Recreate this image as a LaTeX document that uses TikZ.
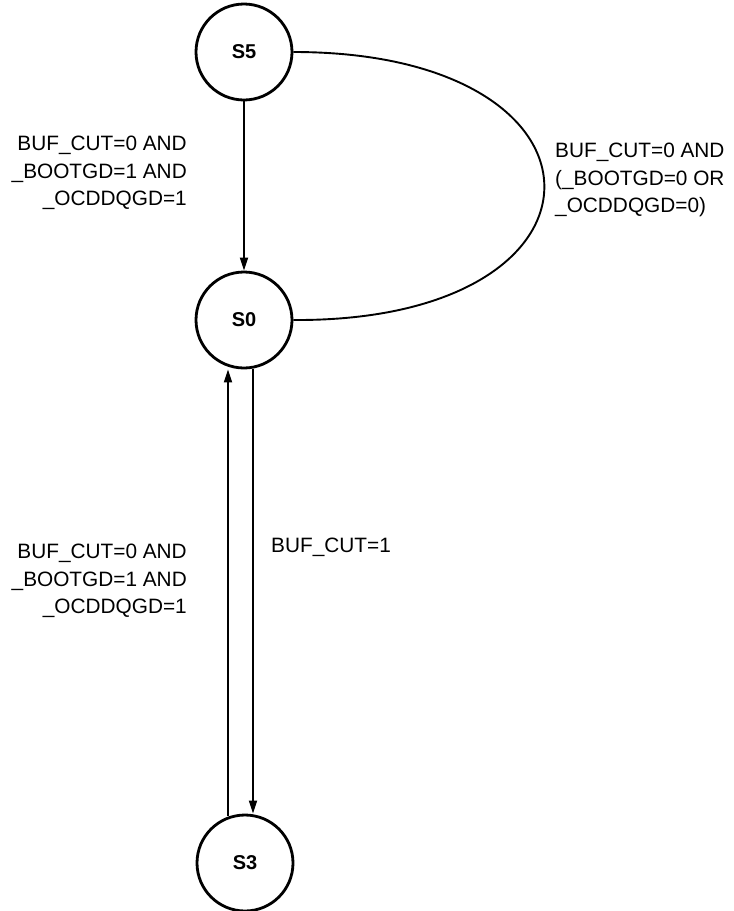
\documentclass[tikz,border=0pt]{standalone}
\usepackage{fontspec}
\setmainfont{Liberation Sans}
\usetikzlibrary{arrows.meta}
\begin{document}
\begin{tikzpicture}[x=1pt,y=-1pt,
  state/.style={circle,draw,line width=2.8pt,minimum size=96pt,inner sep=0pt,font=\fontsize{20}{24}\selectfont\bfseries},
  edge/.style={line width=1.9pt,-{Triangle[length=13pt,width=8pt]}},
  plain/.style={line width=1.9pt},
  lbl/.style={inner sep=0pt,font=\fontsize{20.8}{27.5}\selectfont}]
\path[use as bounding box] (0,0) rectangle (734,911);
\node[state] (s5) at (244,52) {S5};
\node[state] (s0) at (244,320) {S0};
\node[state] (s3) at (245,863) {S3};
\draw[edge] (s5) -- (s0);
\draw[plain] (s5.east) .. controls (628,52) and (628,322) .. (s0.east);
\draw[edge] (s0.south) ++(9,0) coordinate (a) -- (a |- s3.north);
\draw[edge] (s3.north) ++(-17,2) coordinate (b) -- (b |- s0.south);
\node[lbl,anchor=east,align=right] (l1) at (187,173) {BUF\_CUT=0 AND\\\_BOOTGD=1 AND\\\_OCDDQGD=1};
\node[lbl,anchor=west,align=left] (l2) at (555,180) {BUF\_CUT=0 AND\\(\_BOOTGD=0 OR\\\_OCDDQGD=0)};
\node[lbl,anchor=east,align=right] (l3) at (187,581) {BUF\_CUT=0 AND\\\_BOOTGD=1 AND\\\_OCDDQGD=1};
\node[lbl,anchor=west] (l4) at (271,547) {BUF\_CUT=1};
\end{tikzpicture}
\end{document}
